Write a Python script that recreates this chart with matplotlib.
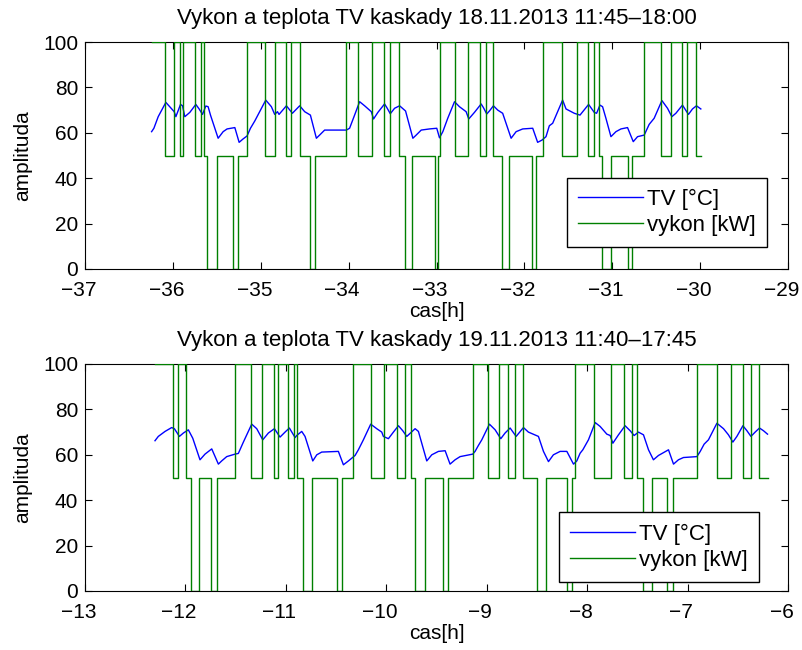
import matplotlib
matplotlib.use("Agg")
import matplotlib.pyplot as plt
import matplotlib.transforms as mtransforms

# --- data ---
# 18.11.2013: vykon (step signal) transition times [h] and levels [kW]
day1_edges = [-36.242, -36.091, -35.985, -35.920, -35.886, -35.747, -35.682, -35.648, -35.606,
              -35.497, -35.315, -35.258, -35.162, -34.951, -34.841, -34.708, -34.651, -34.557,
              -34.443, -34.378, -34.026, -33.894, -33.731, -33.599, -33.534, -33.428, -33.364,
              -33.281, -33.015, -32.985, -32.958, -32.795, -32.644, -32.503, -32.435, -32.352,
              -32.253, -32.178, -31.913, -31.867, -31.784, -31.572, -31.406, -31.281, -31.205,
              -31.156, -31.117, -31.015, -30.826, -30.777, -30.644, -30.447, -30.333, -30.208,
              -30.144, -30.049, -29.992]
day1_power = [100, 50, 100, 50, 100, 50, 100, 50, 0, 50, 0, 50,
              100, 50, 100, 50, 100, 50, 0, 50,
              100, 50, 100, 50, 100, 50, 0, 50, 0, 50,
              100, 50, 100, 50, 100, 50, 0, 50, 0, 50,
              100, 50, 100, 50, 100, 50, 0, 50, 0, 50,
              100, 50, 100, 50, 100, 50]

# 18.11.2013: TV temperature
day1_time = [-36.242, -36.216, -36.167, -36.080, -35.985, -35.966, -35.913, -35.890, -35.864, -35.807,
             -35.739, -35.701, -35.663, -35.625, -35.599, -35.572, -35.485, -35.428, -35.383, -35.295,
             -35.246, -35.201, -35.156, -35.117, -35.068, -34.943, -34.879, -34.841, -34.810, -34.792,
             -34.708, -34.640, -34.557, -34.500, -34.435, -34.367, -34.330, -34.273, -34.026, -33.989,
             -33.932, -33.875, -33.818, -33.742, -33.716, -33.667, -33.591, -33.565, -33.526, -33.477,
             -33.420, -33.352, -33.269, -33.231, -33.174, -33.080, -32.997, -32.966, -32.928, -32.872,
             -32.795, -32.739, -32.663, -32.633, -32.568, -32.492, -32.466, -32.428, -32.398, -32.352,
             -32.303, -32.247, -32.151, -32.094, -32.019, -31.905, -31.849, -31.799, -31.754, -31.716,
             -31.678, -31.565, -31.526, -31.432, -31.367, -31.269, -31.205, -31.178, -31.140, -31.110,
             -31.072, -31.015, -30.958, -30.901, -30.826, -30.761, -30.712, -30.636, -30.580, -30.523,
             -30.435, -30.371, -30.322, -30.276, -30.201, -30.133, -30.087, -30.042, -29.992]
day1_temp = [60.5, 62.0, 67.1, 73.4, 69.3, 67.1, 72.5, 71.9, 67.1, 69.0,
             72.5, 70.5, 68.1, 71.8, 71.5, 67.8, 57.6, 60.5, 61.7, 62.3,
             55.8, 57.3, 58.6, 62.0, 65.2, 74.4, 71.5, 68.1, 69.3, 68.1,
             71.9, 68.6, 71.9, 69.3, 67.8, 57.6, 59.0, 61.2, 61.2, 62.0,
             67.8, 73.7, 71.9, 69.3, 66.1, 69.0, 72.7, 71.1, 68.4, 70.8,
             71.9, 69.6, 57.6, 59.0, 61.2, 61.7, 62.0, 57.8, 60.5, 66.4,
             73.7, 71.5, 69.3, 66.1, 69.0, 72.7, 71.1, 68.3, 69.6, 71.9,
             70.0, 68.6, 57.6, 60.5, 61.7, 62.0, 55.8, 56.8, 58.3, 63.1,
             64.2, 74.4, 70.5, 68.6, 67.8, 72.5, 69.0, 68.6, 72.2, 71.5,
             66.4, 58.3, 60.5, 61.7, 62.3, 56.1, 58.3, 59.0, 63.7, 66.4,
             74.2, 70.8, 67.1, 68.6, 72.2, 68.1, 70.5, 71.9, 70.5]

# 19.11.2013: vykon
day2_edges = [-12.303, -12.127, -12.077, -11.997, -11.947, -11.865, -11.748, -11.688, -11.506,
              -11.347, -11.240, -11.114, -11.075, -10.975, -10.918, -10.885, -10.826, -10.742,
              -10.493, -10.443, -10.328, -10.155, -10.019, -9.889, -9.813, -9.753, -9.713,
              -9.614, -9.431, -9.381, -9.139, -8.983, -8.873, -8.784, -8.717, -8.640,
              -8.501, -8.411, -8.202, -8.152, -8.120, -7.927, -7.761, -7.631, -7.555,
              -7.499, -7.445, -7.356, -7.206, -7.147, -6.907, -6.708, -6.569, -6.449,
              -6.369, -6.287, -6.204]
day2_power = [100, 50, 100, 50, 0, 50, 0, 50,
              100, 50, 100, 50, 100, 50, 100, 50, 0, 50, 0, 50,
              100, 50, 100, 50, 100, 50, 0, 50, 0, 50,
              100, 50, 100, 50, 100, 50, 0, 50, 0, 50,
              100, 50, 100, 50, 100, 50, 0, 50, 0, 50,
              100, 50, 100, 50, 100, 50]

# 19.11.2013: TV temperature
day2_time = [-12.303, -12.270, -12.203, -12.137, -12.110, -12.060, -12.020, -11.971, -11.927, -11.855,
             -11.805, -11.738, -11.672, -11.639, -11.589, -11.506, -11.473, -11.423, -11.340, -11.290,
             -11.230, -11.174, -11.114, -11.058, -11.008, -10.965, -10.908, -10.892, -10.842, -10.809,
             -10.732, -10.692, -10.643, -10.477, -10.427, -10.377, -10.311, -10.278, -10.228, -10.155,
             -10.095, -10.045, -10.029, -9.979, -9.929, -9.879, -9.836, -9.796, -9.713, -9.680,
             -9.597, -9.547, -9.481, -9.414, -9.365, -9.315, -9.265, -9.139, -9.116, -9.083,
             -9.049, -8.973, -8.916, -8.860, -8.817, -8.767, -8.707, -8.634, -8.585, -8.485,
             -8.435, -8.385, -8.336, -8.269, -8.202, -8.136, -8.103, -8.070, -8.043, -7.987,
             -7.920, -7.871, -7.804, -7.771, -7.744, -7.688, -7.622, -7.572, -7.532, -7.489,
             -7.439, -7.389, -7.340, -7.290, -7.190, -7.140, -7.091, -7.041, -6.907, -6.874,
             -6.835, -6.792, -6.708, -6.642, -6.593, -6.549, -6.509, -6.449, -6.409, -6.369,
             -6.327, -6.284, -6.244, -6.204]
day2_temp = [66.2, 68.1, 70.3, 72.0, 71.5, 68.1, 69.6, 71.0, 67.3, 57.8,
             60.3, 62.6, 55.9, 57.3, 59.2, 60.3, 60.6, 65.6, 73.5, 71.5,
             66.6, 69.6, 71.5, 67.8, 70.0, 71.8, 67.6, 68.5, 70.3, 68.1,
             57.3, 60.0, 61.2, 61.5, 55.6, 57.3, 59.7, 62.2, 66.6, 73.5,
             71.5, 70.0, 68.1, 67.1, 70.0, 72.8, 70.6, 68.1, 71.5, 70.3,
             57.3, 60.0, 61.5, 61.8, 55.9, 57.8, 59.2, 60.3, 61.5, 64.1,
             66.6, 73.5, 71.0, 67.1, 69.6, 71.8, 68.1, 72.0, 70.0, 68.1,
             61.5, 57.0, 60.0, 61.5, 61.5, 55.9, 57.3, 60.7, 62.2, 66.6,
             74.2, 72.5, 69.1, 68.5, 65.1, 68.8, 72.8, 70.6, 68.5, 70.0,
             68.8, 62.2, 57.8, 59.7, 62.2, 55.9, 57.8, 58.8, 59.2, 61.5,
             64.7, 66.6, 73.9, 71.5, 68.8, 65.6, 68.1, 72.8, 70.6, 68.1,
             70.0, 71.8, 70.6, 69.1]

plt.rcParams['font.family'] = ['Liberation Sans', 'DejaVu Sans']
plt.rcParams['font.size'] = 15

W, H = 802, 650
fig = plt.figure(figsize=(W / 100, H / 100), dpi=100)
ax1 = fig.add_axes([85 / W, 1 - 269 / H, 703 / W, 227 / H])
ax2 = fig.add_axes([85 / W, 1 - 591 / H, 703 / W, 227 / H])

# MATLAB centres the digits, the minus sign hangs to the left
shift = mtransforms.ScaledTranslation(-6.5 / 100, 0, fig.dpi_scale_trans)

panels = [
    (ax1, day1_time, day1_temp, day1_edges, day1_power, (-37, -29),
     'Vykon a teplota TV kaskady 18.11.2013 11:45\u201318:00', (0.970, 0.098)),
    (ax2, day2_time, day2_temp, day2_edges, day2_power, (-13, -6),
     'Vykon a teplota TV kaskady 19.11.2013 11:40\u201317:45', (0.959, 0.041)),
]

for ax, t, temp, edges, power, xlim, title, anchor in panels:
    ax.plot(t, temp, color='#0000ff', lw=1.0, label='TV [\u00b0C]')
    ax.step(edges, power + [power[-1]], where='post', color='#008000', lw=1.0,
            label='vykon [kW]', zorder=3)
    ax.set_xlim(*xlim)
    ax.set_ylim(0, 100)
    ax.set_xticks(range(xlim[0], xlim[1] + 1))
    ax.set_yticks(range(0, 101, 20))
    ax.tick_params(direction='in', top=True, right=True, length=5, width=0.8)
    ax.tick_params(axis='x', pad=9)
    ax.tick_params(axis='y', pad=5)
    for tick in ax.xaxis.get_major_ticks():
        tick.label1.set_transform(tick.label1.get_transform() + shift)
    ax.set_title(title, fontsize=16, pad=13)
    ax.set_xlabel('cas[h]', labelpad=1)
    ax.set_ylabel('amplituda', labelpad=8)
    leg = ax.legend(loc='lower right', bbox_to_anchor=anchor, fancybox=False,
                    edgecolor='black', framealpha=1, borderaxespad=0, fontsize=16,
                    handlelength=2.9, handletextpad=0.2, borderpad=0.5, labelspacing=0.22)
    leg.get_frame().set_linewidth(1.0)

fig.savefig('out.png', dpi=100)
